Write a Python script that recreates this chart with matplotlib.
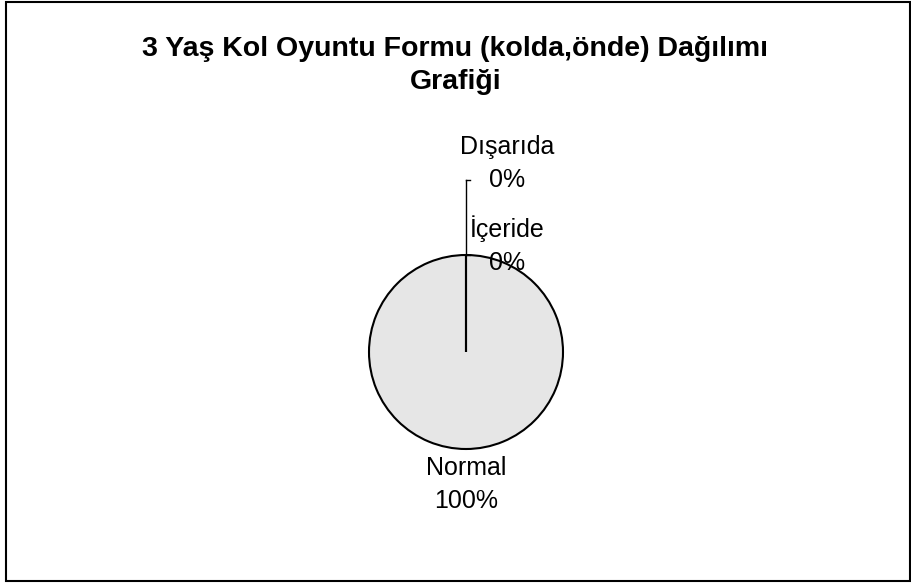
import matplotlib.pyplot as plt
from matplotlib.patches import Rectangle
import numpy as np

# Veriler
categories = ["Normal", "İçeride", "Dışarıda"]
values = [100, 0, 0]
title = "3 Yaş Kol Oyuntu Formu (kolda,önde) Dağılımı\nGrafiği"

plt.rcParams['font.family'] = ['Liberation Sans', 'DejaVu Sans']

W, H = 911, 583
fig = plt.figure(figsize=(W / 100, H / 100), dpi=100)

# Çerçeve
fig.patches.append(Rectangle((6 / W, 2 / H), 904 / W, 579 / H, transform=fig.transFigure,
                             fill=False, edgecolor='black', linewidth=1.5))

fig.text(0.5, 0.888, title, ha='center', va='center', fontsize=20.5,
         fontweight='bold', linespacing=1.33)

# Pasta: yarıçap 97 px, merkez (466, 352)
r_px, cx, cy = 97, 466, 352
ax = fig.add_axes([(cx - 2 * r_px) / W, (H - cy - 2 * r_px) / H, 4 * r_px / W, 4 * r_px / H])

wedges, _ = ax.pie(values, startangle=90, counterclock=False, colors=['#e6e6e6'] * 3,
                   wedgeprops=dict(edgecolor='black', linewidth=1.5), radius=1.0)
ax.set_xlim(-2, 2)
ax.set_ylim(-2, 2)
ax.axis('off')

total = sum(values)
stack = 0
for w, cat, v in zip(wedges, categories, values):
    ang = np.deg2rad((w.theta1 + w.theta2) / 2)
    label = f"{cat}\n{v / total * 100:.0f}%"
    if v > 0:
        ax.text(1.366 * np.cos(ang), 1.366 * np.sin(ang), label, ha='center', va='center',
                fontsize=18, linespacing=1.47)
    else:
        # sıfır dilimler üst üste: kılavuz çizgili etiketler
        x0, y0 = np.cos(ang), np.sin(ang)
        ty = y0 + stack * 0.773
        if stack > 0:
            ax.plot([x0, x0], [y0, ty], color='black', lw=1.0)
        ax.plot([x0, x0 + 0.04], [ty, ty], color='black', lw=1.0)
        ax.text(x0 + 0.42, y0 + 0.098 + stack * 0.85, label, ha='center', va='center',
                fontsize=18, linespacing=1.47)
        stack += 1

fig.savefig("out.png", dpi=100)
